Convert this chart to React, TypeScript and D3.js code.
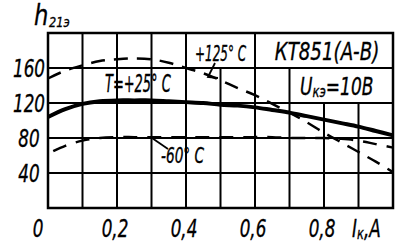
import React from "react";
import * as d3 from "d3";

const currents = [0, 0.05, 0.1, 0.15, 0.2, 0.25, 0.3, 0.35, 0.4, 0.45, 0.5, 0.55, 0.6, 0.65, 0.7, 0.75, 0.8, 0.85, 0.9, 0.95, 1.0];
const hPlus25 = [104, 113, 119, 122, 123, 123, 123, 122, 121, 120, 118, 117, 115, 112, 109, 105, 101, 97, 93, 88, 83];
const hPlus125 = [148, 157, 163, 168, 170, 171, 170, 166, 160, 154, 146, 137, 129, 119, 109, 98, 86, 75, 64, 53, 41];
const hMinus60 = [62, 71, 77, 80, 81, 81, 81, 81, 81, 81, 81, 81, 81, 81, 80, 80, 80, 79, 77, 73, 69];

const yTicks = [40, 80, 120, 160];
const yTickLabels = ["40", "80", "120", "160"];
const xTicks = [0, 0.2, 0.4, 0.6, 0.8];
const xTickLabels = ["0", "0,2", "0,4", "0,6", "0,8"];
const xGrid = [0.1, 0.2, 0.3, 0.4, 0.5, 0.6, 0.7, 0.8, 0.9];
const xGridTop = [200, 200, 200, 200, 160, 200, 160, 120, 120];

const FONT = "'DejaVu Sans Condensed','Liberation Sans Narrow','Liberation Sans',sans-serif";

function T({
  x,
  y,
  size,
  sx = 1,
  sy = 1,
  anchor = "start",
  children,
}: {
  x: number;
  y: number;
  size: number;
  sx?: number;
  sy?: number;
  anchor?: string;
  children: React.ReactNode;
}) {
  return (
    <text
      transform={`translate(${x},${y}) scale(${sx},${sy})`}
      fontSize={size}
      textAnchor={anchor as any}
      stroke="#000"
      strokeWidth={0.3}
      style={{ fontFamily: FONT, fontStyle: "italic" }}
    >
      {children}
    </text>
  );
}

export default function App() {
  const x = d3.scaleLinear().domain([0, 1]).range([48, 393]);
  const y = d3.scaleLinear().domain([0, 200]).range([208, 33]);
  const line = (vals: number[]) =>
    d3
      .line<number>()
      .x((_, i) => x(currents[i]))
      .y((d) => y(d))
      .curve(d3.curveCatmullRom)(vals) as string;

  return (
    <svg width={400} height={249} style={{ position: "absolute", left: 0, top: 0, background: "#fff" }}>
      <rect x={0} y={0} width={400} height={249} fill="#fff" />
      {/* grid */}
      {xGrid.map((v, i) => (
        <line key={"gx" + i} x1={x(v)} x2={x(v)} y1={y(xGridTop[i])} y2={y(0)} stroke="#000" strokeWidth={2} />
      ))}
      {yTicks.map((v) => (
        <line key={"gy" + v} x1={x(0)} x2={x(1)} y1={y(v)} y2={y(v)} stroke="#000" strokeWidth={2} />
      ))}
      <rect x={x(0)} y={y(200)} width={x(1) - x(0)} height={y(0) - y(200)} fill="none" stroke="#000" strokeWidth={2.5} />

      {/* curves */}
      <path d={line(hMinus60)} fill="none" stroke="#000" strokeWidth={2.5} strokeDasharray="14 10" strokeDashoffset={-6} />
      <path d={line(hPlus125)} fill="none" stroke="#000" strokeWidth={2.5} strokeDasharray="14 9" />
      <path d={line(hPlus25)} fill="none" stroke="#000" strokeWidth={4} />

      {/* leaders */}
      <line x1={152} y1={138} x2={168} y2={149} stroke="#000" strokeWidth={1.8} />
      <polyline points="215,63 208,77 218,78" fill="none" stroke="#000" strokeWidth={1.8} />

      {/* y tick labels */}
      {yTicks.map((v, i) => (
        <T key={"yl" + v} x={29} y={y(v) + 9} size={22} sx={0.85} sy={1.1} anchor="middle">
          {yTickLabels[i]}
        </T>
      ))}
      {/* x tick labels */}
      {xTicks.map((v, i) => (
        <T key={"xl" + v} x={v === 0 ? 38 : x(v) - 2} y={237} size={22} sx={0.85} sy={1.1} anchor="middle">
          {xTickLabels[i]}
        </T>
      ))}
      <T x={352} y={237} size={22} sx={0.85} sy={1.1}>
        I<tspan fontSize={15} dy={2}>к</tspan><tspan dy={-2}>,А</tspan>
      </T>

      {/* y title */}
      <T x={34} y={25} size={28} sx={0.9}>h</T>
      <T x={49} y={27} size={14} sx={0.9}>21э</T>

      {/* annotations */}
      <T x={105} y={92} size={20} sx={0.72} sy={1.2}>T=+25° C</T>
      <T x={195} y={61} size={18} sx={0.74} sy={1.15}>+125° C</T>
      <T x={161} y={163} size={19} sx={0.8} sy={1.15}>-60° C</T>
      <T x={327} y={60} size={23} sx={0.88} sy={1.1} anchor="middle">КТ851(А-В)</T>
      <T x={300} y={95} size={22} sx={0.86} sy={1.1}>
        U<tspan fontSize={15} dy={2}>кэ</tspan><tspan dy={-2}>=10В</tspan>
      </T>
    </svg>
  );
}
